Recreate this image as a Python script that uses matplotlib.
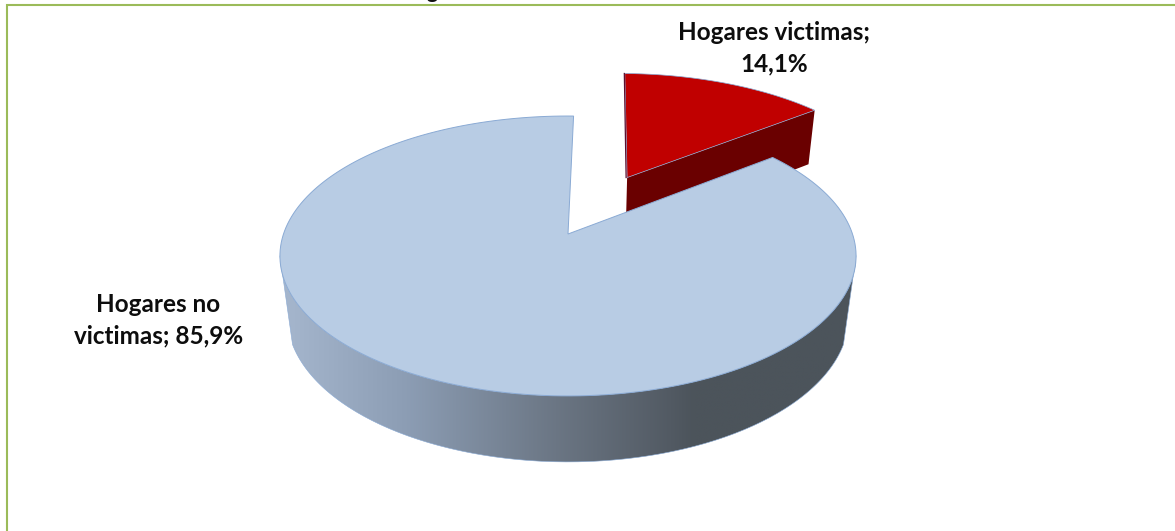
import numpy as np
import matplotlib
matplotlib.use("Agg")
import matplotlib.pyplot as plt
from matplotlib.patches import Polygon
from matplotlib.colors import LinearSegmentedColormap

categories = ["Hogares victimas", "Hogares no victimas"]
values = [14.1, 85.9]
explode = [0.495, 0.0]
labels = ["Hogares victimas;\n14,1%", "Hogares no\nvictimas; 85,9%"]

W, H = 1175, 531
fig = plt.figure(figsize=(W / 100, H / 100), dpi=100)
ax = fig.add_axes([0, 0, 1, 1])
ax.set_xlim(0, W)
ax.set_ylim(H, 0)
ax.axis("off")

# perspective projection of the pie plane
CX, CY, F, G, K = 568.0, 234.0, 284.5, 136.5, 0.157
SX, SY, CYB = 0.975, 1.042, 293.2
START = 1.3


def project(X, Y, bottom=False):
    d = 1 + K * Y
    if bottom:
        return CX + SX * F * X / d, CYB - SY * G * Y / d
    return CX + F * X / d, CY - G * Y / d


def arc(a0, a1, ox=0.0, oy=0.0, bottom=False, n=200):
    a = np.radians(np.linspace(a0, a1, n))
    x, y = project(ox + np.sin(a), oy + np.cos(a), bottom)
    return np.column_stack([x, y])


fractions = np.array(values) / sum(values) * 360
a_red0, a_red1 = START, START + fractions[0]
a_blue0, a_blue1 = a_red1, a_red1 + fractions[1]
mid = np.radians((a_red0 + a_red1) / 2)
ox, oy = explode[0] * np.sin(mid), explode[0] * np.cos(mid)

EDGE = "#8aaad4"

# exploded slice: wall and top
apex_top = np.array(project(ox, oy))
apex_bot = np.array(project(ox, oy, True))
rim_top = arc(a_red1, a_red1, ox, oy, n=1)
rim_bot = arc(a_red1, a_red1, ox, oy, True, n=1)
ax.add_patch(Polygon(np.vstack([apex_top, rim_top, rim_bot, apex_bot]),
                     closed=True, fc="#6a0000", ec="none", zorder=2))
red_pts = np.vstack([apex_top, arc(a_red0, a_red1, ox, oy)])
ax.add_patch(Polygon(red_pts, closed=True, fc="#c00000", ec=EDGE, lw=0.5, zorder=3))
ax.plot([red_pts[0, 0] - 1, red_pts[1, 0] - 0.5], [red_pts[0, 1], red_pts[1, 1]],
        color="#5a1030", lw=0.9, zorder=3)

# main slice: gradient wall (rounded shoulder joins the two rims)
bottom_arc = arc(110, 250, bottom=True)
wall = np.vstack([arc(99, 261), bottom_arc[::-1]])
wall_patch = Polygon(wall, closed=True, fc="none", ec="none", zorder=4)
ax.add_patch(wall_patch)
cmap = LinearSegmentedColormap.from_list(
    "wall",
    [(0.0, "#a6b7ce"), (0.22, "#8c9db4"), (0.48, "#6b7684"),
     (0.68, "#525a63"), (0.72, "#4c545b"), (1.0, "#4c545b")])
grad = np.linspace(0, 1, 256).reshape(1, -1)
im = ax.imshow(grad, cmap=cmap, extent=(279, 856, 480, 240), aspect="auto",
               zorder=4, interpolation="bilinear")
im.set_clip_path(wall_patch)
ax.set_xlim(0, W)
ax.set_ylim(H, 0)
ax.plot(*np.vstack([arc(99, 99), bottom_arc, arc(261, 261)]).T, color=EDGE, lw=0.4, zorder=5)

blue_pts = np.vstack([project(0, 0), arc(a_blue0, a_blue1)])
ax.add_patch(Polygon(blue_pts, closed=True, fc="#b8cce4", ec=EDGE, lw=0.7, zorder=6))

# labels
font = dict(family="Lato", fontweight="bold", fontsize=17.5, color="#0d0d0d",
            ha="center", va="center", linespacing=1.46, zorder=7)
ax.text(774, 48.5, labels[0], **font)
ax.text(158.5, 320, labels[1], **font)

# clipped title descender visible at the very top edge
ax.text(432, -2, "g", family="Lato", fontweight="bold", fontsize=15,
        color="#111111", ha="center", va="baseline", zorder=7)

# chart-area border: top and left only are in frame
BORDER = "#9bbb59"
ax.plot([6.8, 6.8, W], [H, 5, 5], color=BORDER, lw=1.5, zorder=8,
        solid_joinstyle="miter", clip_on=True)

fig.savefig("out.png", dpi=100, facecolor="white")
